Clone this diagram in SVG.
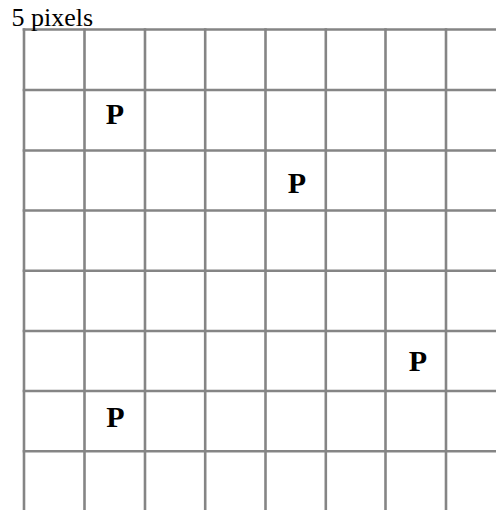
<svg xmlns="http://www.w3.org/2000/svg" width="496" height="510" viewBox="0 0 496 510">
<style>
.g line{stroke:#858585;stroke-width:2.6}
.p{font-family:"Liberation Serif",serif;font-weight:bold;font-size:30px;text-anchor:middle}
.t{font-family:"Liberation Serif",serif;font-size:26px}
</style>
<rect width="496" height="510" fill="#fff"/>
<g id="grid" class="g">
<line x1="22.7" y1="29.5" x2="496" y2="29.5"/>
<line x1="22.7" y1="90" x2="496" y2="90"/>
<line x1="22.7" y1="150.5" x2="496" y2="150.5"/>
<line x1="22.7" y1="210.5" x2="496" y2="210.5"/>
<line x1="22.7" y1="270.7" x2="496" y2="270.7"/>
<line x1="22.7" y1="331" x2="496" y2="331"/>
<line x1="22.7" y1="391" x2="496" y2="391"/>
<line x1="22.7" y1="451.3" x2="496" y2="451.3"/>
<line x1="24" y1="28.2" x2="24" y2="510"/>
<line x1="84.5" y1="28.2" x2="84.5" y2="510"/>
<line x1="145" y1="28.2" x2="145" y2="510"/>
<line x1="205.2" y1="28.2" x2="205.2" y2="510"/>
<line x1="265.5" y1="28.2" x2="265.5" y2="510"/>
<line x1="325.8" y1="28.2" x2="325.8" y2="510"/>
<line x1="385.5" y1="28.2" x2="385.5" y2="510"/>
<line x1="446" y1="28.2" x2="446" y2="510"/>
</g>
<text class="t" x="11.5" y="26">5 pixels</text>
<g id="p1"><text class="p" x="115" y="124">P</text></g>
<g id="p2"><text class="p" x="297" y="193">P</text></g>
<g id="p3"><text class="p" x="418" y="371">P</text></g>
<g id="p4"><text class="p" x="115.5" y="427">P</text></g>
</svg>
